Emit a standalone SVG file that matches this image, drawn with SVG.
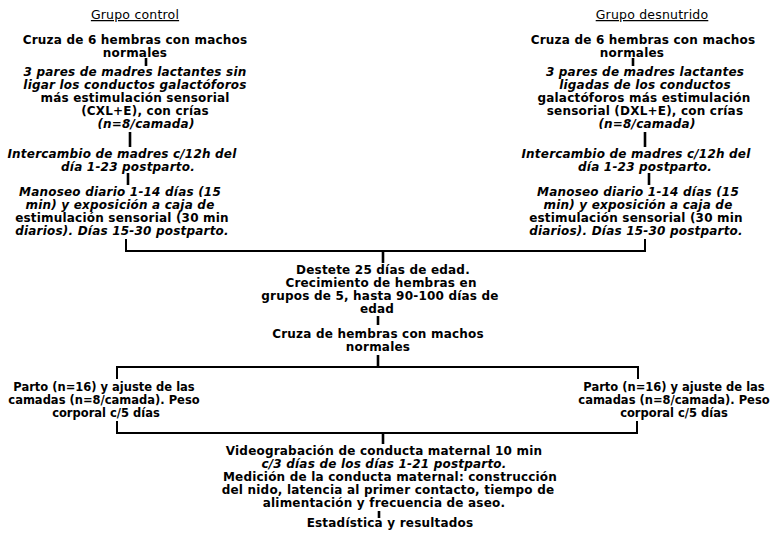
<svg xmlns="http://www.w3.org/2000/svg" width="776" height="533" viewBox="0 0 776 533">
<style>
text{font-family:"DejaVu Sans","Liberation Sans",Arial,sans-serif;font-size:12px;letter-spacing:0.2px;font-weight:bold;fill:#000;text-anchor:middle}
.i{font-style:italic}
.s{font-size:11.5px;letter-spacing:0}
.h{font-weight:normal;font-size:12.5px;text-decoration:underline}
.c line,.c polyline{stroke:#000;stroke-width:2;fill:none}
.c .t{stroke-width:2.6}
</style>
<rect width="776" height="533" fill="#fff"/>
<g id="title-control"><text class="h" x="135" y="19">Grupo control</text></g>
<g id="title-desnutrido"><text class="h" x="652" y="19">Grupo desnutrido</text></g>
<g id="l1"><text x="135" y="44">Cruza de 6 hembras con machos</text><text x="135" y="57">normales</text></g>
<g id="r1"><text x="643" y="44">Cruza de 6 hembras con machos</text><text x="632" y="57">normales</text></g>
<g id="l2"><text class="i" x="135" y="76">3 pares de madres lactantes sin</text><text class="i" x="135" y="89">ligar los conductos galactóforos</text><text x="135" y="102">más estimulación sensorial</text><text x="145" y="115">(CXL+E), con crías</text><text class="i" x="146" y="128">(n=8/camada)</text></g>
<g id="r2"><text class="i" x="645" y="76">3 pares de madres lactantes</text><text class="i" x="645" y="89">ligadas de los conductos</text><text x="644" y="102">galactóforos más estimulación</text><text x="645" y="115">sensorial (DXL+E), con crías</text><text class="i" x="647" y="128">(n=8/camada)</text></g>
<g id="l3"><text class="i" x="122" y="158">Intercambio de madres c/12h del</text><text class="i" x="128" y="171">día 1-23 postparto.</text></g>
<g id="r3"><text class="i" x="636" y="158">Intercambio de madres c/12h del</text><text class="i" x="645" y="171">día 1-23 postparto.</text></g>
<g id="l4"><text class="i" x="120" y="196">Manoseo diario 1-14 días (15</text><text class="i" x="120" y="209">min) y exposición a caja de</text><text x="122" y="222">estimulación sensorial (30 min</text><text class="i" x="122" y="235">diarios). Días 15-30 postparto.</text></g>
<g id="r4"><text class="i" x="638" y="196">Manoseo diario 1-14 días (15</text><text class="i" x="638" y="209">min) y exposición a caja de</text><text x="636" y="222">estimulación sensorial (30 min</text><text class="i" x="636" y="235">diarios). Días 15-30 postparto.</text></g>
<g id="m1"><text x="383" y="274">Destete 25 días de edad.</text><text x="381" y="287">Crecimiento de hembras en</text><text x="380" y="300">grupos de 5, hasta 90-100 días de</text><text x="377" y="313">edad</text></g>
<g id="m2"><text x="378" y="338">Cruza de hembras con machos</text><text x="378" y="351">normales</text></g>
<g id="l5"><text class="s" x="104" y="391">Parto (n=16) y ajuste de las</text><text class="s" x="104" y="404">camadas (n=8/camada). Peso</text><text class="s" x="106" y="417">corporal c/5 días</text></g>
<g id="r5"><text class="s" x="674" y="391">Parto (n=16) y ajuste de las</text><text class="s" x="674" y="404">camadas (n=8/camada). Peso</text><text class="s" x="674" y="417">corporal c/5 días</text></g>
<g id="m3"><text x="384" y="455">Videograbación de conducta maternal 10 min</text><text class="i" x="384" y="468">c/3 días de los días 1-21 postparto.</text><text x="390" y="481">Medición de la conducta maternal: construcción</text><text x="388" y="494">del nido, latencia al primer contacto, tiempo de</text><text x="384" y="507">alimentación y frecuencia de aseo.</text></g>
<g id="m4"><text x="390" y="527">Estadística y resultados</text></g>
<g id="connectors" class="c">
<line class="t" x1="146" y1="58" x2="146" y2="66"/>
<line class="t" x1="633" y1="58" x2="633" y2="66"/>
<line class="t" x1="130" y1="132" x2="130" y2="147"/>
<line class="t" x1="645" y1="132" x2="645" y2="147"/>
<line class="t" x1="128" y1="173" x2="128" y2="185"/>
<line class="t" x1="649" y1="173" x2="649" y2="185"/>
<polyline points="126,239 126,251 645,251 645,239"/>
<line class="t" x1="383" y1="251" x2="383" y2="263"/>
<line class="t" x1="378" y1="316" x2="378" y2="325"/>
<line class="t" x1="378" y1="355" x2="378" y2="367"/>
<polyline points="117,379 117,367 638,367 638,379"/>
<polyline points="117,421 117,433 637,433 637,421"/>
<line class="t" x1="383" y1="433" x2="383" y2="444"/>
<line class="t" x1="379" y1="511" x2="379" y2="518"/>
</g>
</svg>
